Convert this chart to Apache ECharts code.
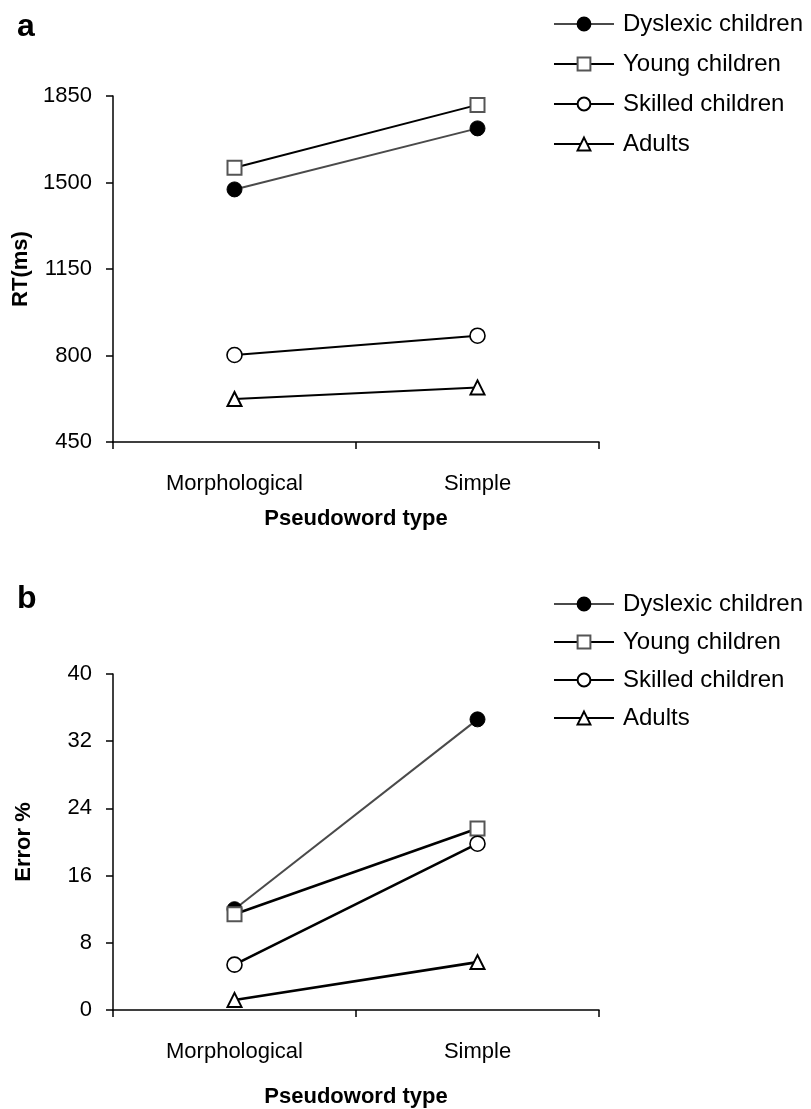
<!DOCTYPE html>
<html>
<head>
<meta charset="utf-8">
<script src="https://cdn.jsdelivr.net/npm/echarts@6/dist/echarts.min.js"></script>
<style>
html,body{margin:0;padding:0;background:#fff;}
#chart{width:811px;height:1109px;}
</style>
</head>
<body>
<div id="chart"></div>
<script>
// ---- data ----
var categories = ['Morphological', 'Simple'];
var groups = ['Dyslexic children', 'Young children', 'Skilled children', 'Adults'];

// Panel a: reaction time (ms)
var rtDyslexic = [1472, 1719];
var rtYoung    = [1560, 1814];
var rtSkilled  = [802, 880];
var rtAdults   = [624, 671];
var rtTicks    = [450, 800, 1150, 1500, 1850];

// Panel b: error %
var errDyslexic = [12.0, 34.6];
var errYoung    = [11.4, 21.6];
var errSkilled  = [5.4, 19.8];
var errAdults   = [1.2, 5.7];
var errTicks    = [0, 8, 16, 24, 32, 40];

var FONT = '"Liberation Sans", Arial, sans-serif';

var styles = {
  'Dyslexic children': {symbol: 'circle', line: '#4a4a4a', fill: '#000', border: '#000', bw: 1, size: 15},
  'Young children':    {symbol: 'rect',   line: '#000',    fill: '#fff', border: '#555', bw: 2, size: 14},
  'Skilled children':  {symbol: 'circle', line: '#000',    fill: '#fff', border: '#000', bw: 1.6, size: 15},
  'Adults':            {symbol: 'triangle', line: '#000',  fill: '#fff', border: '#000', bw: 2, size: 14}
};

function mkSeries(name, data, idx, lw) {
  var s = styles[name];
  return {
    name: name,
    type: 'line',
    xAxisIndex: idx,
    yAxisIndex: idx,
    data: data,
    symbol: s.symbol,
    symbolSize: s.size,
    showAllSymbol: true,
    lineStyle: {color: s.line, width: name === 'Dyslexic children' ? 2 : lw},
    itemStyle: {color: s.fill, borderColor: s.border, borderWidth: s.bw},
    emphasis: {disabled: true},
    animation: false
  };
}

function xAxisCfg(idx, nameGap) {
  return {
    type: 'category',
    gridIndex: idx,
    data: categories,
    boundaryGap: true,
    axisLine: {lineStyle: {color: '#000', width: 1.5}},
    axisTick: {show: true, length: 7, alignWithLabel: false, lineStyle: {color: '#000', width: 1.5}},
    axisLabel: {color: '#000', fontSize: 22, fontFamily: FONT, margin: 31},
    name: 'Pseudoword type',
    nameLocation: 'middle',
    nameGap: nameGap,
    nameTextStyle: {color: '#000', fontSize: 22, fontWeight: 'bold', fontFamily: FONT},
    splitLine: {show: false}
  };
}

function yAxisCfg(idx, name, min, max, ticks) {
  return {
    type: 'value',
    gridIndex: idx,
    min: min,
    max: max,
    axisLine: {show: true, lineStyle: {color: '#000', width: 1.5}},
    axisTick: {show: true, length: 7, customValues: ticks, lineStyle: {color: '#000', width: 1.5}},
    axisLabel: {color: '#000', fontSize: 22, fontFamily: FONT, margin: 21, customValues: ticks,
                formatter: function (v) { return String(v); }},
    splitLine: {show: false},
    name: name,
    nameLocation: 'middle',
    nameGap: 78,
    nameTextStyle: {color: '#000', fontSize: 22, fontWeight: 'bold', fontFamily: FONT}
  };
}

function legendCfg(top, gap) {
  return {
    orient: 'vertical',
    left: 548,
    top: top,
    itemWidth: 60,
    itemHeight: 16,
    itemGap: gap,
    data: groups,
    selectedMode: false,
    textStyle: {color: '#000', fontSize: 24, fontFamily: FONT, lineHeight: 24, padding: [0, 0, 0, 4]}
  };
}

var chart = echarts.init(document.getElementById('chart'), null, {renderer: 'canvas'});
chart.setOption({
  backgroundColor: '#fff',
  animation: false,
  title: [
    {text: 'a', left: 12, top: 6, textStyle: {fontSize: 32, fontWeight: 'bold', color: '#000', fontFamily: FONT}},
    {text: 'b', left: 12, top: 578, textStyle: {fontSize: 32, fontWeight: 'bold', color: '#000', fontFamily: FONT}}
  ],
  legend: [legendCfg(7, 16), legendCfg(587, 14)],
  grid: [
    {left: 113, top: 96, width: 486, height: 346},
    {left: 113, top: 674, width: 486, height: 336}
  ],
  xAxis: [xAxisCfg(0, 66), xAxisCfg(1, 76)],
  yAxis: [
    yAxisCfg(0, 'RT(ms)', rtTicks[0], rtTicks[rtTicks.length - 1], rtTicks),
    yAxisCfg(1, 'Error %', errTicks[0], errTicks[errTicks.length - 1], errTicks)
  ],
  series: [
    mkSeries('Dyslexic children', rtDyslexic, 0, 2),
    mkSeries('Young children', rtYoung, 0, 2),
    mkSeries('Skilled children', rtSkilled, 0, 2),
    mkSeries('Adults', rtAdults, 0, 2),
    mkSeries('Dyslexic children', errDyslexic, 1, 2.6),
    mkSeries('Young children', errYoung, 1, 2.6),
    mkSeries('Skilled children', errSkilled, 1, 2.6),
    mkSeries('Adults', errAdults, 1, 2.6)
  ]
});
</script>
</body>
</html>
